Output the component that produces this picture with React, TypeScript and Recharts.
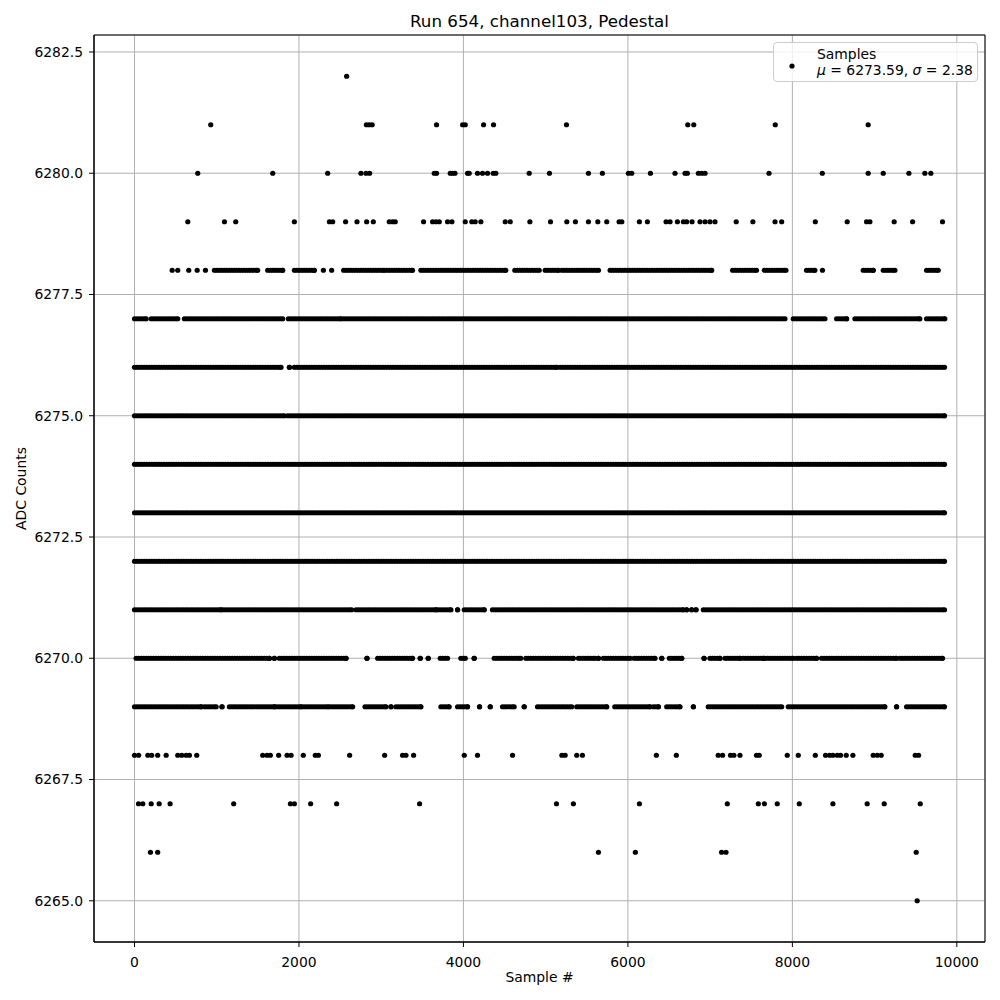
import React from "react";
import {
  ScatterChart,
  Scatter,
  XAxis,
  YAxis,
  CartesianGrid,
  ReferenceArea,
  Label
} from "recharts";

// x axis / y axis ticks as matplotlib drew them
const xTicks = [0, 2000, 4000, 6000, 8000, 10000];
const yTicks = [6265, 6267.5, 6270, 6272.5, 6275, 6277.5, 6280, 6282.5];
const xDomain = [-492.5, 10342.5];
const yDomain = [6264.15, 6282.85];

// sparse levels: sample index of every dot
const at6282 = [2580];
const at6281 = [927, 2820, 2855, 2890, 3673, 3990, 4022, 4245, 4366, 5253, 6728, 6801, 7792, 8922];
const at6280 = [
  769, 1681, 2349, 2754, 2815, 2859, 3645, 3673, 3840, 3868, 3897, 4050, 4070, 4171, 4232, 4293,
  4362, 4394, 4800, 5046, 5520, 5690, 6006, 6047, 6274, 6573, 6695, 6723, 6857, 6898, 6938, 7716,
  8364, 8922, 9105, 9417, 9611, 9684
];
const at6279 = [
  648, 1094, 1231, 1944, 2370, 2410, 2567, 2706, 2823, 2904, 3098, 3138, 3171, 3515, 3625, 3666,
  3706, 3807, 3860, 4022, 4102, 4143, 4212, 4508, 4569, 4808, 5059, 5257, 5362, 5520, 5634, 5743,
  5893, 5926, 6140, 6237, 6464, 6513, 6602, 6675, 6715, 6780, 6877, 6938, 6998, 7059, 7317, 7520,
  7789, 7870, 8279, 8667, 8902, 8943, 9238, 9462, 9826
];
const at6278 = [458, 526, 660, 762, 863, 2297, 2398, 8366];
const at6268 = [
  0, 50, 162, 209, 282, 385, 526, 575, 628, 668, 757, 1559, 1612, 1652, 1753, 1855, 1904, 2053,
  2199, 2236, 2616, 3042, 3260, 3301, 3394, 4010, 4171, 4597, 5197, 5237, 5378, 5447, 6346, 6589,
  7098, 7151, 7248, 7289, 7363, 7564, 7597, 7938, 8072, 8279, 8404, 8453, 8493, 8546, 8586, 8655,
  8736, 8983, 9032, 9080, 9494, 9535
];
const at6267 = [
  49, 101, 203, 300, 433, 1206, 1896, 1944, 2142, 2458, 3467, 5131, 5337, 6140, 7209, 7586, 7659,
  7816, 8084, 8493, 8910, 9117, 9555
];
const at6266 = [194, 282, 5642, 6091, 7139, 7193, 9506];
const at6265 = [9518];

// busy levels: runs of samples that show up as solid bars [first, last]
const runs6278 = [
  [972, 1498], [1620, 1802], [1944, 2187], [2543, 3038], [3070, 3381], [3483, 4515], [4625, 4921],
  [4994, 5156], [5197, 5642], [5784, 7019], [7273, 7564], [7659, 7922], [8172, 8274], [8862, 8983],
  [9105, 9247], [9632, 9773]
];
const runs6277 = [
  [0, 142], [203, 526], [607, 1802], [1871, 2511], [2543, 7910], [8011, 8396], [8538, 8660],
  [8761, 9550], [9632, 9854]
];
const runs6276 = [[0, 1782], [1884, 1884], [1944, 5136], [5176, 9850]];
const runs6275 = [[0, 1822], [1863, 9850]];
const runs6274 = [[0, 9850]];
const runs6273 = [[0, 9850]];
const runs6272 = [[0, 9850]];
const runs6271 = [
  [0, 1053], [1085, 2640], [2694, 3666], [3686, 3848], [3929, 3929], [4010, 4253], [4353, 6675],
  [6715, 6715], [6776, 6776], [6828, 6828], [6917, 9850]
];
const runs6270 = [
  [20, 1640], [1701, 1701], [1762, 2572], [2827, 2827], [2957, 3381], [3475, 3475], [3572, 3572],
  [3718, 3807], [3969, 4022], [4131, 4131], [4374, 4698], [4759, 5337], [5399, 5601], [5642, 5642],
  [5702, 6027], [6075, 6330], [6412, 6412], [6504, 6654], [6926, 6926], [6998, 7120], [7181, 7363],
  [7404, 7647], [7667, 8011], [8051, 8294], [8355, 9267], [9308, 9826]
];
const runs6269 = [
  [0, 810], [851, 993], [1064, 1064], [1154, 1701], [1722, 2026], [2057, 2349], [2370, 2653],
  [2803, 3058], [3119, 3119], [3179, 3483], [3726, 3827], [3929, 4050], [4196, 4196], [4326, 4326],
  [4475, 4617], [4739, 4739], [4901, 5317], [5378, 5743], [5840, 6270], [6310, 6371], [6472, 6634],
  [6796, 6796], [6977, 7870], [7950, 9125], [9267, 9267], [9389, 9850]
];

const sparse: [number, number[]][] = [
  [6282, at6282], [6281, at6281], [6280, at6280], [6279, at6279], [6278, at6278],
  [6268, at6268], [6267, at6267], [6266, at6266], [6265, at6265]
];
const dense: [number, number[][]][] = [
  [6278, runs6278], [6277, runs6277], [6276, runs6276], [6275, runs6275], [6274, runs6274],
  [6273, runs6273], [6272, runs6272], [6271, runs6271], [6270, runs6270], [6269, runs6269]
];

// one marker every RUN_STEP samples inside a run, so the run reads as a bar
const RUN_STEP = 30;

const samples: { x: number; y: number }[] = [];
sparse.forEach(([level, xs]) => xs.forEach((x) => samples.push({ x, y: level })));
dense.forEach(([level, runs]) =>
  runs.forEach(([a, b]) => {
    for (let x = a; x <= b; x += RUN_STEP) samples.push({ x, y: level });
    samples.push({ x: b, y: level });
  })
);

const font = "'DejaVu Sans', sans-serif";
const tickStyle = { fill: "#000", fontSize: 13.9, fontFamily: font };

const dot = (p: any) => <circle cx={p.cx} cy={p.cy} r={2.6} fill="#000" />;

export default function App() {
  return (
    <div style={{ position: "absolute", left: 0, top: 0, width: 1000, height: 1000, background: "#fff" }}>
      <div
        style={{
          position: "absolute",
          left: 94,
          width: 891,
          top: 11,
          textAlign: "center",
          fontFamily: font,
          fontSize: 16.7,
          color: "#000"
        }}
      >
        Run 654, channel103, Pedestal
      </div>

      <ScatterChart width={1000} height={1000} margin={{ top: 35, right: 15, bottom: 0, left: 0 }}>
        <CartesianGrid stroke="#b0b0b0" strokeWidth={1} />
        <XAxis
          type="number"
          dataKey="x"
          domain={xDomain}
          allowDataOverflow
          ticks={xTicks}
          height={58}
          tickSize={5}
          tickMargin={10}
          tick={tickStyle}
          axisLine={{ stroke: "#000" }}
          tickLine={{ stroke: "#000" }}
        >
          <Label value="Sample #" position="insideBottom" offset={18} style={{ fill: "#000", fontSize: 13.9, fontFamily: font }} />
        </XAxis>
        <YAxis
          type="number"
          dataKey="y"
          domain={yDomain}
          allowDataOverflow
          ticks={yTicks}
          width={94}
          tickSize={5}
          tickMargin={6}
          tick={tickStyle}
          tickFormatter={(v: number) => v.toFixed(1)}
          axisLine={{ stroke: "#000" }}
          tickLine={{ stroke: "#000" }}
        >
          <Label
            value="ADC Counts"
            angle={-90}
            position="insideLeft"
            offset={21}
            style={{ textAnchor: "middle", fill: "#000", fontSize: 13.9, fontFamily: font }}
          />
        </YAxis>
        <Scatter name="Samples" data={samples} shape={dot} isAnimationActive={false} />
        <ReferenceArea
          x1={xDomain[0]}
          x2={xDomain[1]}
          y1={yDomain[0]}
          y2={yDomain[1]}
          fill="none"
          fillOpacity={0}
          stroke="#000"
          strokeWidth={1}
          strokeOpacity={1}
        />
      </ScatterChart>

      <div
        style={{
          position: "absolute",
          left: 773,
          top: 42,
          width: 203,
          height: 38,
          border: "1px solid #cccccc",
          borderRadius: 4,
          background: "rgba(255,255,255,0.8)",
          fontFamily: font,
          fontSize: 13.9,
          color: "#000",
          lineHeight: "16px"
        }}
      >
        <svg width={20} height={20} style={{ position: "absolute", left: 8, top: 13 }}>
          <circle cx={10} cy={10} r={2.6} fill="#000" />
        </svg>
        <div style={{ position: "absolute", left: 43, top: 3, whiteSpace: "nowrap" }}>
          Samples
          <br />
          <i>μ</i> = 6273.59, <i>σ</i> = 2.38
        </div>
      </div>
    </div>
  );
}
